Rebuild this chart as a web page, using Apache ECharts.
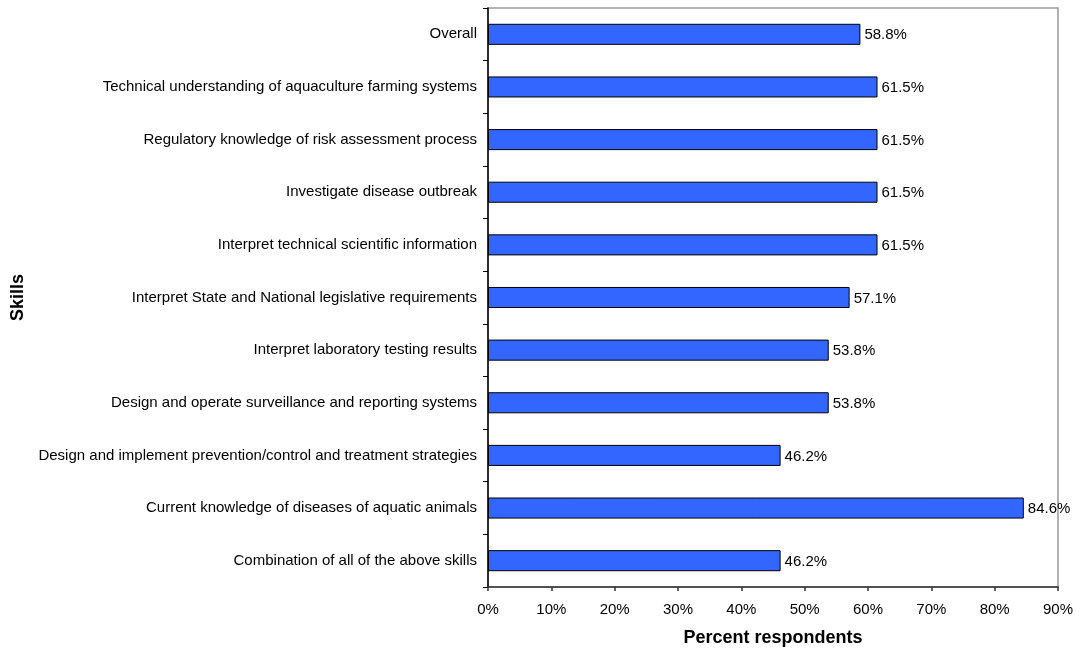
<!DOCTYPE html>
<html>
<head>
<meta charset="utf-8">
<script src="https://cdn.jsdelivr.net/npm/echarts@6/dist/echarts.min.js"></script>
<style>
  html, body { margin: 0; padding: 0; background: #fff; }
  #chart { width: 1076px; height: 650px; }
</style>
</head>
<body>
<div id="chart"></div>
<script>
// Skills listed top to bottom, with the share of respondents for each
const skills = [
  'Overall',
  'Technical understanding of aquaculture farming systems',
  'Regulatory knowledge of risk assessment process',
  'Investigate disease outbreak',
  'Interpret technical scientific information',
  'Interpret State and National legislative requirements',
  'Interpret laboratory testing results',
  'Design and operate surveillance and reporting systems',
  'Design and implement prevention/control and treatment strategies',
  'Current knowledge of diseases of aquatic animals',
  'Combination of all of the above skills'
];
const percentRespondents = [58.8, 61.5, 61.5, 61.5, 61.5, 57.1, 53.8, 53.8, 46.2, 84.6, 46.2];
const xTicks = { min: 0, max: 90, interval: 10 };

const chart = echarts.init(document.getElementById('chart'));
const font = 'Liberation Sans, Arial, sans-serif';

chart.setOption({
  animation: false,
  textStyle: { fontFamily: font },
  grid: {
    left: 488, right: 18, top: 8, bottom: 63,
    outerBoundsMode: 'none',
    show: true, borderColor: '#9a9a9a', borderWidth: 1.5
  },
  xAxis: {
    type: 'value',
    min: xTicks.min, max: xTicks.max, interval: xTicks.interval,
    name: 'Percent respondents',
    nameLocation: 'middle',
    nameGap: 42,
    nameTextStyle: { fontFamily: font, fontSize: 18, fontWeight: 'bold', color: '#000' },
    axisLine: { show: true, lineStyle: { color: '#333', width: 1.5 } },
    axisTick: { show: true, length: 4, lineStyle: { color: '#333', width: 1.5 } },
    axisLabel: { formatter: '{value}%', fontSize: 15, color: '#000', margin: 15, fontFamily: font },
    splitLine: { show: false }
  },
  yAxis: {
    type: 'category',
    inverse: true,
    data: skills,
    name: 'Skills',
    nameLocation: 'middle',
    nameGap: 457,
    nameRotate: 90,
    nameTextStyle: { fontFamily: font, fontSize: 18, fontWeight: 'bold', color: '#000' },
    axisLine: { show: true, lineStyle: { color: '#000', width: 1.5 } },
    axisTick: { show: true, length: 5, lineStyle: { color: '#000', width: 1 } },
    axisLabel: { fontSize: 15, color: '#000', margin: 11, fontFamily: font },
    splitLine: { show: false }
  },
  series: [{
    type: 'bar',
    data: percentRespondents,
    barWidth: '40%',
    itemStyle: { color: '#3366FF', borderColor: '#000', borderWidth: 1 },
    label: {
      show: true,
      position: 'right',
      distance: 4,
      offset: [0, 1],
      formatter: p => p.value.toFixed(1) + '%',
      fontSize: 15,
      color: '#000',
      fontFamily: font
    }
  }]
});
</script>
</body>
</html>
